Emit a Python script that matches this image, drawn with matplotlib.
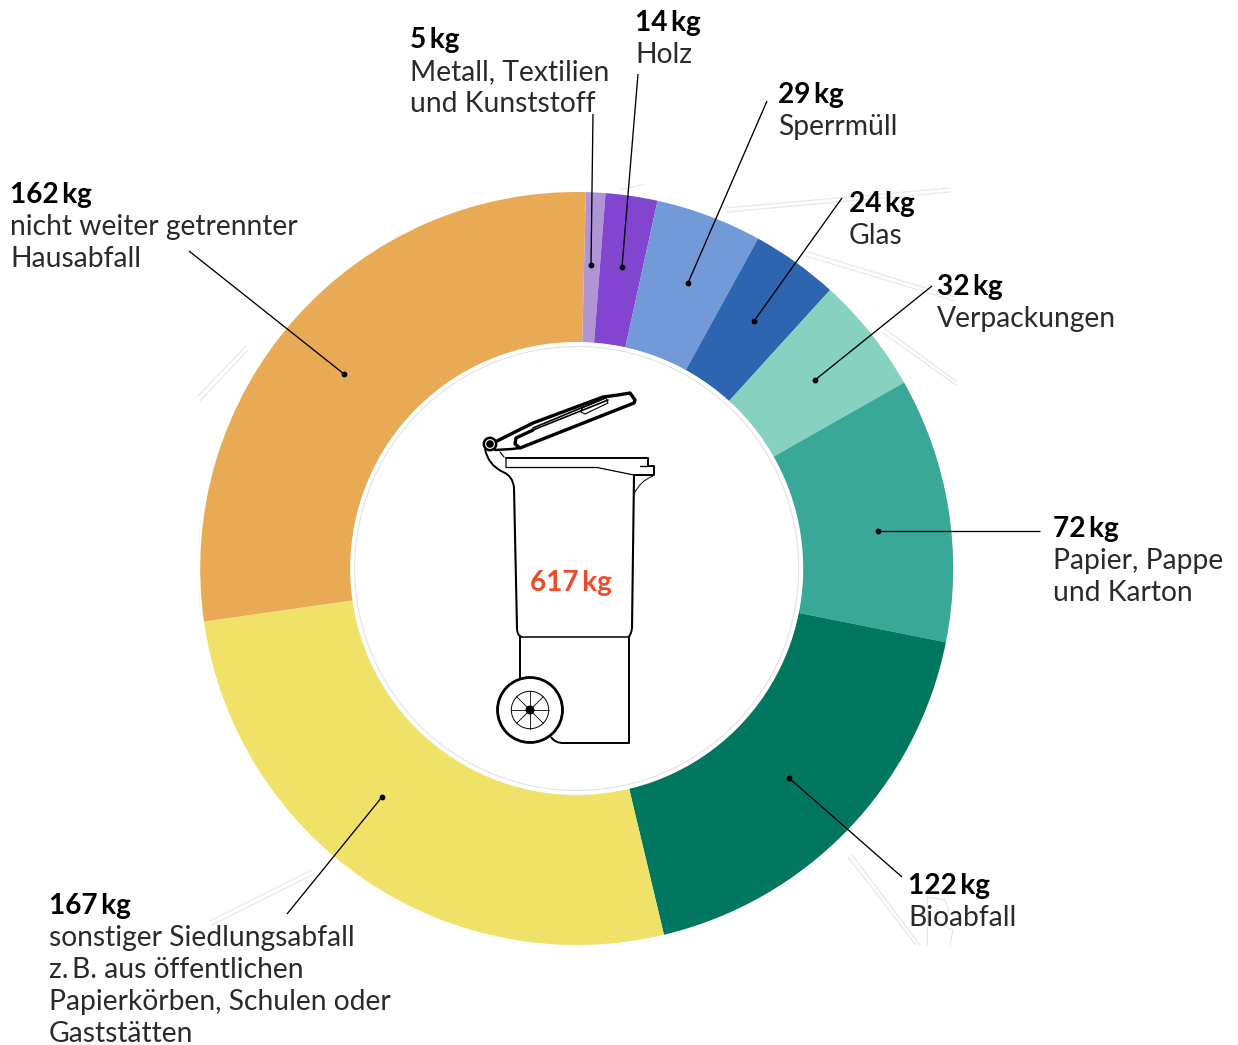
import matplotlib
matplotlib.use("Agg")
import matplotlib.pyplot as plt
from matplotlib.patches import Circle, PathPatch
from matplotlib.path import Path
import numpy as np

W, H = 1238, 1045
total_label = "617\u2009kg"
amounts = [5, 14, 29, 24, 32, 72, 122, 167, 162]
categories = ["Metall, Textilien\nund Kunststoff", "Holz", "Sperrmüll", "Glas", "Verpackungen",
              "Papier, Pappe\nund Karton", "Bioabfall",
              "sonstiger Siedlungsabfall\nz.\u2009B. aus öffentlichen\nPapierkörben, Schulen oder\nGaststätten",
              "nicht weiter getrennter\nHausabfall"]
drawn_share = [3.0, 8.0, 16.4, 13.5, 18.1, 40.9, 65.3, 95.3, 99.5]
colors = ["#AF94D6", "#8245D0", "#7299D8", "#2D65B1", "#86D1C0", "#3AA896", "#027760", "#F0E269", "#E9AA55"]
label_xy = [(410, 48), (635, 31), (778, 103), (849, 212), (937, 295), (1053, 537), (908, 894), (49, 914), (10, 203)]
leaders = [((593, 114), (591, 265)), ((638, 74), (622, 267)), ((767, 101), (688, 283)),
           ((842, 198), (754, 321)), ((932, 286), (815, 380)), ((1040, 531), (878, 531)),
           ((902, 877), (789, 778)), ((287, 914), (382, 797)), ((189, 251), (344, 374))]

FS_B = 28 * 0.72
FS = 28.3 * 0.72
plt.rcParams["font.family"] = ["Lato", "DejaVu Sans"]

fig = plt.figure(figsize=(W / 100, H / 100), dpi=100, facecolor="white")
ax = fig.add_axes([0, 0, 1, 1])
Y = lambda y: H - y
cx, cy, R, RI = 576.7, 568.5, 376.5, 226

# faint ghost strokes behind the ring
ghost = [[(725, 208), (950, 188)], [(727, 212), (950, 192)], [(808, 252), (955, 297)], [(806, 256), (955, 301)],
         [(885, 329), (956, 381)], [(883, 333), (956, 385)], [(197, 397), (246, 346)], [(200, 401), (248, 350)],
         [(848, 857), (916, 945)], [(852, 855), (920, 945)], [(210, 921), (312, 870)], [(212, 925), (314, 874)],
         [(620, 190), (645, 184)], [(927, 897), (927, 945)], [(927, 897), (945, 900)], [(945, 900), (950, 915)],
         [(950, 915), (930, 920)], [(930, 920), (953, 930)], [(953, 930), (950, 945)]]
for g in ghost:
    ax.plot([p[0] for p in g], [Y(p[1]) for p in g], color="#E8E8E8", lw=0.9, zorder=1, solid_capstyle="round")

ax.pie(drawn_share, colors=colors, center=(cx, Y(cy)), radius=R, startangle=88.6, counterclock=False,
       wedgeprops=dict(width=R - RI, linewidth=0), frame=False)
ax.set_xlim(0, W)
ax.set_ylim(0, H)
ax.set_aspect("auto")
ax.axis("off")

ax.add_patch(Circle((cx, Y(cy)), RI + 0.5, fc="white", ec="none", zorder=3))
ax.add_patch(Circle((cx, Y(cy)), RI - 4, fc="white", ec="#E2E2E2", lw=0.8, zorder=3))

for (a, b) in leaders:
    ax.plot([a[0], b[0]], [Y(a[1]), Y(b[1])], color="black", lw=0.95, zorder=5, solid_capstyle="butt")
    ax.plot(b[0], Y(b[1]), "o", color="black", ms=4.2, mew=0, zorder=5)

for amt, cat, (x, y) in zip(amounts, categories, label_xy):
    ax.text(x, Y(y), f"{amt}\u2009kg", fontsize=FS_B, fontweight="bold", color="black", va="baseline", ha="left", zorder=6)
    for i, line in enumerate(cat.split("\n")):
        ax.text(x, Y(y + 32 * (i + 1)), line, fontsize=FS, fontweight="normal", color="#2A2A2A",
                va="baseline", ha="left", zorder=6)

ax.text(571, Y(590.5), total_label, fontsize=FS_B, fontweight="bold", color="#EE4B2B", va="baseline", ha="center", zorder=6)

# waste bin icon
def stroke(pts, lw=1.5, **kw):
    ax.plot([p[0] for p in pts], [Y(p[1]) for p in pts], color="black", lw=lw, zorder=5,
            solid_joinstyle="round", solid_capstyle="round", **kw)

def curve(verts, lw=1.5):
    codes = [Path.MOVETO] + [Path.CURVE3] * (len(verts) - 1)
    ax.add_patch(PathPatch(Path([(x, Y(y)) for x, y in verts], codes), fc="none", ec="black", lw=lw, zorder=5))

# lid
stroke([(497, 441), (533, 423), (603, 397), (618, 395), (630, 393), (635, 400), (634, 403), (520, 448), (515, 444),
        (516, 438), (533, 430)], lw=2.4)
stroke([(533, 428), (605, 398)], lw=1.2)
stroke([(533, 430), (608, 400)], lw=1.2)
stroke([(582, 408), (606, 398), (608, 403), (585, 414), (581, 412), (582, 408)], lw=0.8)
stroke([(495, 450), (512, 449), (520, 448)], lw=1.8)
ax.add_patch(Circle((490, Y(444)), 6.2, fc="white", ec="black", lw=1.8, zorder=5))
ax.add_patch(Circle((490, Y(444)), 3.8, fc="black", ec="none", zorder=6))
# body
curve([(485, 449), (488, 465), (503, 472), (513, 476), (514, 488)], lw=1.4)
stroke([(514, 488), (517, 628)], lw=1.5)
curve([(517, 628), (517, 636), (522, 637)], lw=1.4)
stroke([(522, 637), (628, 637)], lw=1.1)
curve([(628, 637), (631, 636), (632, 628)], lw=1.4)
stroke([(632, 628), (634, 476)], lw=1.5)
# rim
stroke([(506, 457.5), (648, 457.5), (648, 465.5), (653.5, 465.5), (653.5, 475), (634, 475)], lw=1.4)
stroke([(506, 457.5), (506, 467.5), (597, 467.5), (634, 475)], lw=0.9)
stroke([(640, 466), (648, 466)], lw=1.0)
curve([(653, 476), (640, 481), (634, 494)], lw=0.7)
stroke([(504, 457), (500, 452)], lw=0.8)
# lower part
stroke([(520, 637), (520, 680)], lw=1.4)
stroke([(629, 637), (629, 743), (563, 743)], lw=1.4)
curve([(563, 743), (555, 743), (551, 737)], lw=1.4)
# wheel
wx, wy = 530, 710
ax.add_patch(Circle((wx, Y(wy)), 32.5, fc="white", ec="black", lw=2.0, zorder=5))
ax.add_patch(Circle((wx, Y(wy)), 18.7, fc="none", ec="black", lw=0.7, zorder=5))
for t in np.deg2rad(np.arange(0, 180, 45)):
    ax.plot([wx - 18.7 * np.cos(t), wx + 18.7 * np.cos(t)], [Y(wy) - 18.7 * np.sin(t), Y(wy) + 18.7 * np.sin(t)],
            color="black", lw=0.6, zorder=5)
ax.add_patch(Circle((wx, Y(wy)), 4.5, fc="black", ec="none", zorder=6))

fig.savefig("out.png", dpi=100, facecolor="white")
